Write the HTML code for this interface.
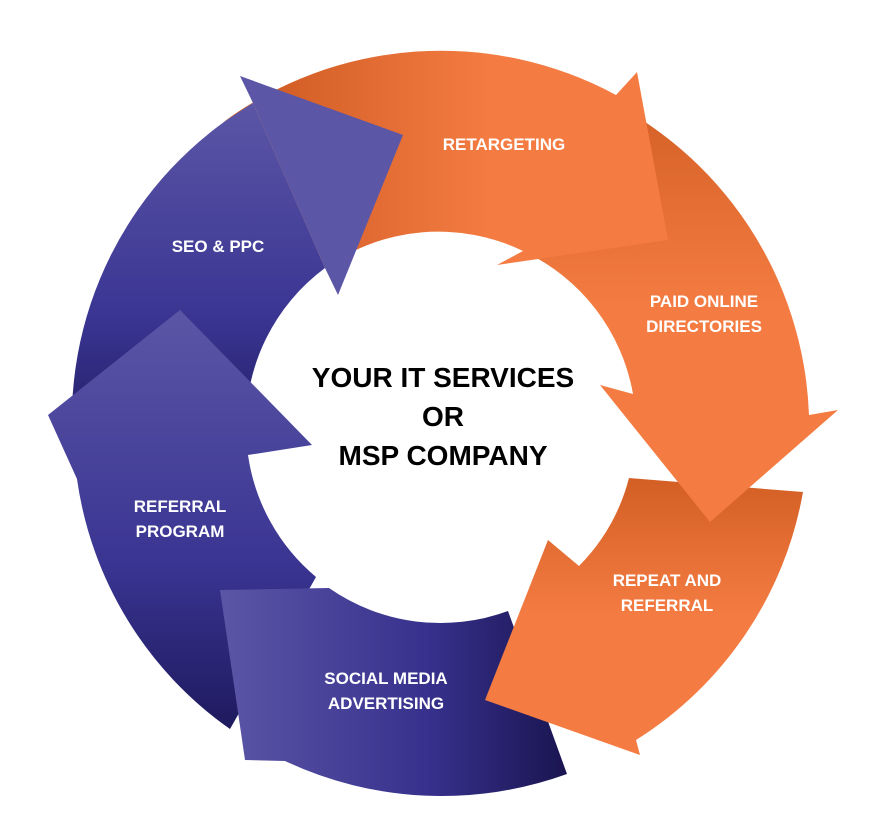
<!DOCTYPE html>
<html><head><meta charset="utf-8"><style>
html,body{margin:0;padding:0;background:#fff;}
svg{display:block;}
text{font-family:"Liberation Sans",sans-serif;font-weight:bold;}
</style></head><body>
<svg width="884" height="836" viewBox="0 0 884 836">
<defs>
<linearGradient id="or" x1="0" y1="0" x2="1" y2="0">
<stop offset="0" stop-color="#c9561f"/><stop offset="0.6" stop-color="#f47c42"/><stop offset="1" stop-color="#f47c42"/></linearGradient>
<linearGradient id="or2" x1="0" y1="0" x2="0" y2="1">
<stop offset="0" stop-color="#d35f25"/><stop offset="0.5" stop-color="#f47c42"/><stop offset="1" stop-color="#f47c42"/></linearGradient>
<linearGradient id="pu" x1="0" y1="0" x2="0" y2="1">
<stop offset="0" stop-color="#5b56a6"/><stop offset="0.6" stop-color="#3a3592"/><stop offset="1" stop-color="#1e1a5e"/></linearGradient>
<linearGradient id="pu2" x1="0" y1="0" x2="1" y2="0">
<stop offset="0" stop-color="#5b56a6"/><stop offset="0.6" stop-color="#37318d"/><stop offset="1" stop-color="#1a1550"/></linearGradient>
</defs>
<!-- F SEO body -->
<path d="M246,428 L74,460 A368 368 0 0 1 253,103 L325,268 A195 195 0 0 0 246,428 Z" fill="url(#pu)"/>
<!-- E referral -->
<path d="M48,415 L180,310 L312,445 L248,455 A195 195 0 0 0 316,577 L230,729 A368 368 0 0 1 77,479 Z" fill="url(#pu)"/>
<!-- D social -->
<path d="M220,590 L329,588 A195 195 0 0 0 508,611 L567,774 A368 368 0 0 1 285,761 L245,760 Z" fill="url(#pu2)"/>
<!-- C repeat -->
<path d="M629,478 L803,492 A368 368 0 0 1 636,740 L640,755 L485,700 L548,540 L579,566 A195 195 0 0 0 629,478 Z" fill="url(#or2)"/>
<!-- B paid -->
<path d="M523,251 L597,95 A368 368 0 0 1 809,415 L838,410 L710,522 L600,385 L633,394 A195 195 0 0 0 523,251 Z" fill="url(#or2)"/>
<!-- A retargeting -->
<path d="M325,268 L253,103 L222,123 A368 368 0 0 1 616,95 L637,72 L668,240 L497,265 L523,251 A195 195 0 0 0 325,268 Z" fill="url(#or)"/>
<!-- F head -->
<path d="M253,103 L240,76 L403,135 L338,295 L325,268 Z" fill="#5b56a6"/>
<text x="218" y="252" fill="#fff" font-size="17" text-anchor="middle">SEO &amp; PPC</text>
<text x="504" y="150" fill="#fff" font-size="17" text-anchor="middle">RETARGETING</text>
<text x="704" y="307" fill="#fff" font-size="17" text-anchor="middle">PAID ONLINE</text>
<text x="704" y="332" fill="#fff" font-size="17" text-anchor="middle">DIRECTORIES</text>
<text x="667" y="586" fill="#fff" font-size="17" text-anchor="middle">REPEAT AND</text>
<text x="667" y="611" fill="#fff" font-size="17" text-anchor="middle">REFERRAL</text>
<text x="386" y="684" fill="#fff" font-size="17" text-anchor="middle">SOCIAL MEDIA</text>
<text x="386" y="709" fill="#fff" font-size="17" text-anchor="middle">ADVERTISING</text>
<text x="180" y="512" fill="#fff" font-size="17" text-anchor="middle">REFERRAL</text>
<text x="180" y="537" fill="#fff" font-size="17" text-anchor="middle">PROGRAM</text>
<text x="443" y="387" fill="#000" font-size="28" text-anchor="middle">YOUR IT SERVICES</text>
<text x="443" y="426" fill="#000" font-size="28" text-anchor="middle">OR</text>
<text x="443" y="465" fill="#000" font-size="28" text-anchor="middle">MSP COMPANY</text>
</svg>
</body></html>
